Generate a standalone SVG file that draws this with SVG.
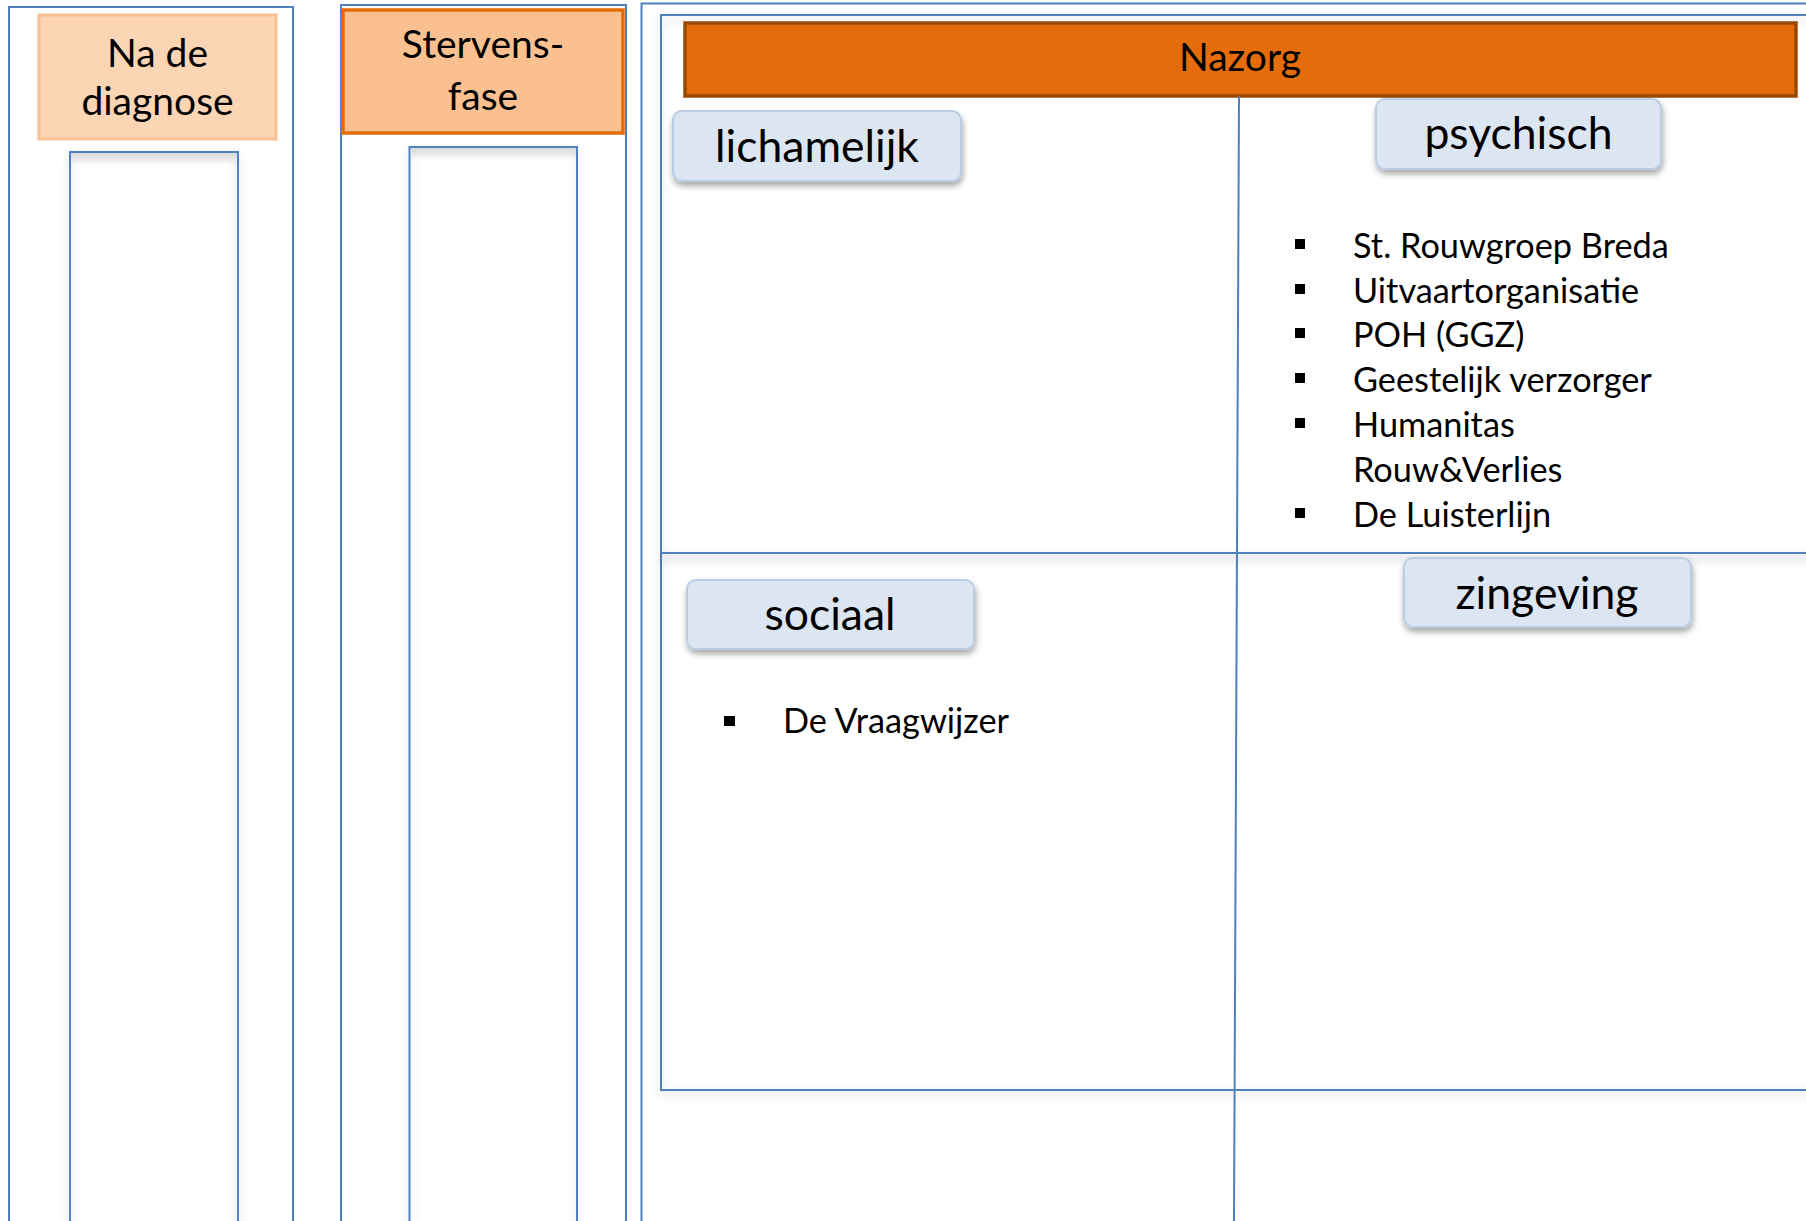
<svg xmlns="http://www.w3.org/2000/svg" width="1806" height="1221" viewBox="0 0 1806 1221">
<style>
.line{fill:none;stroke:#4F81BD;stroke-width:2}
.lbl{font-family:Lato,"Liberation Sans",sans-serif;fill:#000;text-anchor:middle}
.head{font-size:39px}
.cat{font-size:44.5px}
.item{font-family:Lato,"Liberation Sans",sans-serif;font-size:34.3px;fill:#000}
.catbox{fill:#DCE6F2;stroke:#B9CDE5;stroke-width:2}
.bul{fill:#000}
</style>
<defs>
<filter id="sh" x="-10%" y="-20%" width="130%" height="160%">
<feDropShadow dx="1" dy="4" stdDeviation="3" flood-color="#000" flood-opacity="0.35"/>
</filter>
<filter id="lsh" x="-5%" y="-5%" width="110%" height="110%">
<feDropShadow dx="0" dy="4" stdDeviation="5" flood-color="#000" flood-opacity="0.18"/>
</filter>
<filter id="blur" filterUnits="userSpaceOnUse" x="0" y="0" width="1806" height="1221">
<feGaussianBlur stdDeviation="4"/>
</filter>
<linearGradient id="inTop" x1="0" y1="0" x2="0" y2="1">
<stop offset="0" stop-color="#000" stop-opacity="0.12"/>
<stop offset="1" stop-color="#000" stop-opacity="0"/>
</linearGradient>
</defs>
<rect width="1806" height="1221" fill="#fff"/>

<g id="col-diagnose">
<rect class="line" x="9" y="7" width="284" height="1230"/>
<rect x="39" y="15" width="237" height="124" fill="#FCD5B5" stroke="#FAC090" stroke-width="3"/>
<text class="lbl head" x="157.5" y="67">Na de</text>
<text class="lbl head" x="157.5" y="115">diagnose</text>
<rect x="71" y="153" width="166" height="12" fill="url(#inTop)"/>
<rect class="line" x="70" y="152" width="168" height="1090" filter="url(#lsh)"/>
</g>

<g id="col-stervensfase">
<rect class="line" x="341" y="5" width="285" height="1230"/>
<rect x="343" y="10" width="280" height="123" fill="#FAC08F" stroke="#E36C09" stroke-width="3.5"/>
<text class="lbl head" x="483" y="58">Stervens-</text>
<text class="lbl head" x="483" y="110">fase</text>
<rect x="411" y="148" width="165" height="12" fill="url(#inTop)"/>
<rect class="line" x="409.5" y="147" width="167.5" height="1090" filter="url(#lsh)"/>
</g>

<g id="col-nazorg">
<rect class="line" x="641.5" y="3.5" width="1200" height="1240"/>
<rect class="line" x="661" y="15" width="1180" height="1075" filter="url(#lsh)"/>
<rect x="685" y="23" width="1111" height="73" fill="#E46C0A" stroke="#984807" stroke-width="3.5"/>
<text class="lbl head" x="1240" y="71">Nazorg</text>
</g>

<g id="connectors">
<rect x="661" y="555" width="1150" height="6" fill="#000" opacity="0.12" filter="url(#blur)"/>
<line class="line" x1="661" y1="553" x2="1810" y2="553"/>
<line class="line" x1="1239" y1="96" x2="1234" y2="1221" stroke-width="1.5"/>
</g>

<g id="lichamelijk">
<rect class="catbox" x="673" y="111" width="288" height="70" rx="9" filter="url(#sh)"/>
<text class="lbl cat" x="817" y="162">lichamelijk</text>
</g>

<g id="psychisch">
<rect class="catbox" x="1376" y="99" width="285" height="70" rx="9" filter="url(#sh)"/>
<text class="lbl cat" x="1518.5" y="149">psychisch</text>
<rect class="bul" x="1295" y="239" width="10" height="10"/>
<text class="item" x="1353" y="258">St. Rouwgroep Breda</text>
<rect class="bul" x="1295" y="284" width="10" height="10"/>
<text class="item" x="1353" y="302.5">Uitvaartorganisatie</text>
<rect class="bul" x="1295" y="328" width="10" height="10"/>
<text class="item" x="1353" y="347">POH (GGZ)</text>
<rect class="bul" x="1295" y="373" width="10" height="10"/>
<text class="item" x="1353" y="391.5">Geestelijk verzorger</text>
<rect class="bul" x="1295" y="418" width="10" height="10"/>
<text class="item" x="1353" y="436.5">Humanitas</text>
<text class="item" x="1353" y="481.5">Rouw&amp;Verlies</text>
<rect class="bul" x="1295" y="508" width="10" height="10"/>
<text class="item" x="1353" y="526.5">De Luisterlijn</text>
</g>

<g id="sociaal">
<rect class="catbox" x="687" y="580" width="287" height="69" rx="9" filter="url(#sh)"/>
<text class="lbl cat" x="830" y="630">sociaal</text>
<rect class="bul" x="724" y="716" width="11" height="10"/>
<text class="item" x="783" y="733">De Vraagwijzer</text>
</g>

<g id="zingeving">
<rect class="catbox" x="1404" y="558" width="287" height="69" rx="9" filter="url(#sh)"/>
<text class="lbl cat" x="1547" y="609">zingeving</text>
</g>
</svg>
